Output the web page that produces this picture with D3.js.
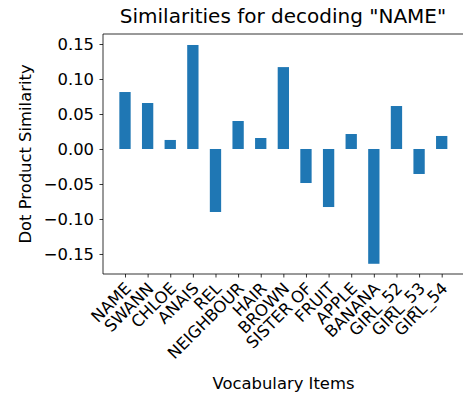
<!DOCTYPE html>
<html>
<head>
<meta charset="utf-8">
<script src="https://cdn.jsdelivr.net/npm/d3@7"></script>
<style>
  body { margin: 0; background: #fff; overflow: hidden; }
  text { font-family: "DejaVu Sans", sans-serif; fill: #000; }
</style>
</head>
<body>
<div id="chart"></div>
<script>
// vocabulary items and their dot product similarity with "NAME"
const items = ["NAME", "SWANN", "CHLOE", "ANAIS", "REL", "NEIGHBOUR", "HAIR", "BROWN",
  "SISTER OF", "FRUIT", "APPLE", "BANANA", "GIRL_52", "GIRL_53", "GIRL_54"]
const similarity = [0.0814, 0.0657, 0.0129, 0.1486, -0.0900, 0.0400, 0.0157, 0.1170,
  -0.0486, -0.0829, 0.0214, -0.1640, 0.0614, -0.0357, 0.0186]
const yTicks = [-0.15, -0.10, -0.05, 0.00, 0.05, 0.10, 0.15]

const margin = {top: 34, left: 103},
  width = 360,   // axes run off the right edge of the picture, no right spine shows
  height = 240

const svg = d3.select("#chart")
  .append("svg")
    .attr("width", 463)
    .attr("height", 396)

const g = svg.append("g")
  .attr("transform", `translate(${margin.left},${margin.top})`)

// x: one tick per item, bars half the step wide
const x = d3.scalePoint()
  .domain(items)
  .range([22, 338.7])
const barW = x.step() * 0.5

const y = d3.scaleLinear()
  .domain([-0.1786, 0.1643])
  .range([height, 0])

g.selectAll(".bar")
  .data(items)
  .join("rect")
    .attr("class", "bar")
    .attr("x", d => x(d) - barW / 2)
    .attr("width", barW)
    .attr("y", (d, i) => y(Math.max(0, similarity[i])))
    .attr("height", (d, i) => Math.abs(y(similarity[i]) - y(0)))
    .attr("fill", "#1f77b4")

// y axis
const yAxis = g.append("g")
  .call(d3.axisLeft(y).tickValues(yTicks).tickFormat(d3.format(".2f"))
    .tickSize(3.5).tickPadding(5.5).tickSizeOuter(0))
yAxis.select(".domain").remove()
yAxis.selectAll("text").style("font-size", "16.4px")
yAxis.selectAll("line").attr("stroke-width", 0.8)

// x axis
const xAxis = g.append("g")
  .attr("transform", `translate(0,${height})`)
  .call(d3.axisBottom(x).tickSize(3.5).tickSizeOuter(0))
xAxis.select(".domain").remove()
xAxis.selectAll("line").attr("stroke-width", 0.8)
xAxis.selectAll("text")
  .style("font-size", "16.4px")
  .attr("text-anchor", "end")
  .attr("dy", null)
  .attr("y", 0)
  .attr("transform", "translate(-2,7) rotate(-45)")
  .attr("dominant-baseline", "hanging")

// spines: left, top, bottom
const spines = [[0, 0, 0, height], [0, 0, width, 0], [0, height, width, height]]
g.selectAll(".spine")
  .data(spines)
  .join("line")
    .attr("class", "spine")
    .attr("x1", d => d[0]).attr("y1", d => d[1])
    .attr("x2", d => d[2]).attr("y2", d => d[3])
    .attr("stroke", "#000")
    .attr("stroke-width", 0.8)

// title and labels
svg.append("text")
  .attr("x", 283)
  .attr("y", 23)
  .attr("text-anchor", "middle")
  .style("font-size", "20px")
  .text('Similarities for decoding "NAME"')

svg.append("text")
  .attr("x", 283.5)
  .attr("y", 389)
  .attr("text-anchor", "middle")
  .style("font-size", "16.4px")
  .text("Vocabulary Items")

svg.append("text")
  .attr("transform", `translate(31,${margin.top + height / 2}) rotate(-90)`)
  .attr("text-anchor", "middle")
  .style("font-size", "16.4px")
  .text("Dot Product Similarity")
</script>
</body>
</html>
